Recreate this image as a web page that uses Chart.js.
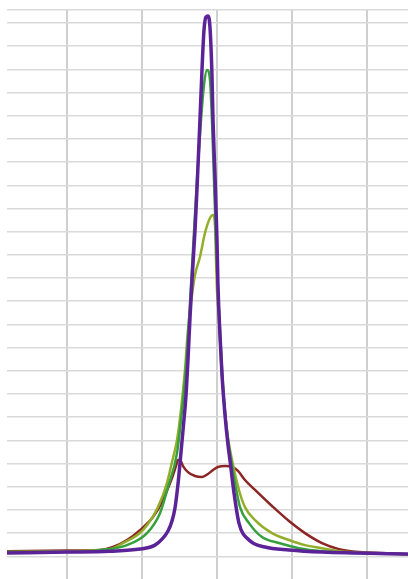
<!DOCTYPE html>
<html>
<head>
<meta charset="utf-8">
<script src="https://cdn.jsdelivr.net/npm/chart.js@4.4.0/dist/chart.umd.min.js"></script>
<style>
  html, body { margin: 0; padding: 0; background: #ffffff; }
  #c { display: block; }
</style>
</head>
<body>
<canvas id="c" width="408" height="579"></canvas>
<script>
// ---- data ----
const xTicks = [-20, -10, 0, 10, 20];
const yTicks = [0,1,2,3,4,5,6,7,8,9,10,11,12,13,14,15,16,17,18,19,20,21,22,23,23.56];

const purpleX = [-28,-20,-14.27,-10.27,-8.27,-7.33,-6.53,-6,-5.6,-5.2,-4.93,-4.53,-4.13,-3.87,-3.6,-3.33,-2.93,-2.67,-2.27,-2,-1.73,-1.47,-1.2,-0.93,-0.67,-0.53,-0.27,0,0.13,0.4,0.67,1.07,1.47,1.73,2.27,2.93,4.27,6.4,9.6,14,25.47];
const purpleY = [0.14,0.18,0.22,0.31,0.48,0.74,1.09,1.52,2.08,3.11,4.02,5.44,6.95,8.46,10.28,11.92,14.07,15.80,18.82,20.97,22.70,23.26,23.30,22.79,20.76,18.82,16.44,13.64,11.70,9.54,7.82,6.09,4.80,4.15,2.73,1.43,0.70,0.40,0.27,0.18,0.10];

const greenX = [-28,-20,-14.27,-12,-9.33,-7.6,-6.53,-5.33,-4.8,-4.27,-3.73,-3.2,-2.67,-2.13,-1.73,-1.33,-0.93,-0.67,-0.4,-0.13,0.13,0.53,0.93,1.47,2,2.4,3.07,4.27,6,8.27,10.93,14,19.07,25.47];
const greenY = [0.18,0.18,0.31,0.48,1.00,1.86,2.99,4.45,5.88,7.60,10.19,13.21,16.23,18.82,20.33,20.97,20.54,18.82,16.23,13.64,11.48,8.90,6.74,5.01,3.93,3.16,2.12,1.43,0.83,0.57,0.35,0.22,0.14,0.09];

const oliveX = [-28,-20,-14.27,-12.53,-9.87,-7.87,-6.67,-6,-5.33,-4.8,-4.27,-3.87,-3.33,-2.93,-2.27,-1.6,-0.93,-0.53,-0.27,-0.13,0,0.27,0.53,0.93,1.33,2,2.93,3.73,5.07,7.33,9.6,11.73,14,16.27,20.4,25.47];
const oliveY = [0.18,0.22,0.31,0.57,1.13,2.12,3.16,4.06,5.01,6.31,8.03,9.76,11.27,12.13,12.91,13.94,14.59,14.72,14.29,12.78,11.48,10.19,8.46,6.74,5.44,4.15,2.86,2.12,1.56,1.00,0.70,0.48,0.35,0.22,0.14,0.09];

const maroonX = [-28,-20,-15.6,-13.87,-12,-10.27,-8.53,-7.2,-6.53,-6,-5.47,-5.2,-4.93,-4.53,-3.87,-2.93,-2,-1.2,-0.53,0.13,1.07,2,2.8,3.73,5.07,7.33,9.6,11.73,14,16.27,19.07,21.73,25.47];
const maroonY = [0.22,0.25,0.27,0.40,0.70,1.13,1.69,2.42,2.94,3.37,3.89,4.15,4.15,3.89,3.63,3.46,3.42,3.55,3.72,3.85,3.89,3.85,3.68,3.29,2.86,2.17,1.52,1.00,0.57,0.31,0.18,0.14,0.09];

function pts(xs, ys) { return xs.map((x, i) => ({ x: x, y: ys[i] })); }

function ds(data, color, width) {
  return {
    data: data,
    borderColor: color,
    backgroundColor: color,
    borderWidth: width,
    pointRadius: 0,
    fill: false,
    cubicInterpolationMode: 'monotone'
  };
}

new Chart(document.getElementById('c'), {
  type: 'line',
  data: {
    datasets: [
      ds(pts(purpleX, purpleY), '#5c2399', 3.5),
      ds(pts(greenX, greenY), '#35a03c', 2.5),
      ds(pts(oliveX, oliveY), '#93ae2a', 2.5),
      ds(pts(maroonX, maroonY), '#8c2624', 2.5)
    ]
  },
  options: {
    responsive: false,
    devicePixelRatio: 1,
    animation: false,
    layout: { padding: { left: 7, top: 10, right: 0, bottom: 0 } },
    plugins: { legend: { display: false }, tooltip: { enabled: false } },
    scales: {
      x: {
        type: 'linear',
        min: -28,
        max: 25.47,
        afterBuildTicks: (s) => { s.ticks = xTicks.map(v => ({ value: v })); },
        ticks: { display: false },
        grid: { color: '#cfcfcf', lineWidth: 2, drawTicks: false },
        border: { display: false }
      },
      y: {
        type: 'linear',
        min: -0.98,
        max: 23.56,
        afterBuildTicks: (s) => { s.ticks = yTicks.map(v => ({ value: v })); },
        ticks: { display: false },
        grid: { color: '#dadada', lineWidth: 1.5, drawTicks: false },
        border: { display: false }
      }
    }
  }
});
</script>
</body>
</html>
